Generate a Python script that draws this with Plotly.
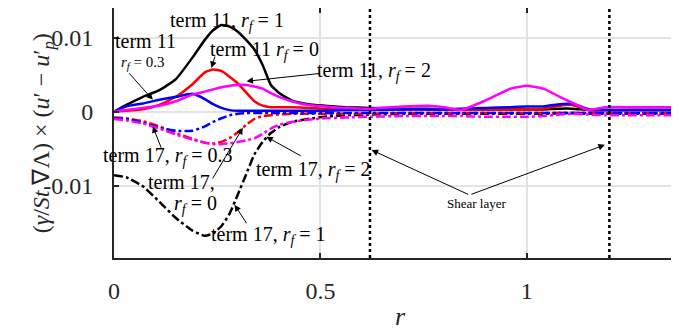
import plotly.graph_objects as go

# radial positions shared by all curves
R = [0, 0.03, 0.07, 0.11, 0.15, 0.19, 0.22, 0.24, 0.26, 0.28, 0.30, 0.32, 0.34,
     0.36, 0.38, 0.40, 0.43, 0.47, 0.51, 0.56, 0.62, 0.70, 0.76, 0.80, 0.84,
     0.90, 0.96, 1.00, 1.04, 1.08, 1.11, 1.15, 1.19, 1.25, 1.30, 1.39]

# term 11 (solid)
T11_RF1 = [0, 0.0009, 0.0020, 0.0029, 0.0044, 0.0073, 0.0097, 0.0110, 0.0117, 0.0115,
           0.0108, 0.0097, 0.0084, 0.0063, 0.0036, 0.0025, 0.0015, 0.0010, 0.0008,
           0.0006, 0.0005, 0.0004, 0.0004, 0.0003, 0.0003, 0.0003, 0.0003, 0.0003,
           0.0003, 0.0004, 0.0004, 0.0002, 0.0002, 0.0002, 0.0002, 0.0002]
T11_RF0 = [0, 0.0001, 0.0003, 0.0009, 0.0020, 0.0037, 0.0053, 0.0057, 0.0055, 0.0047,
           0.0038, 0.0026, 0.0014, 0.0008, 0.0006, 0.0006, 0.0006, 0.0005, 0.0004,
           0.0003, 0.0003, 0.0003, 0.0003, 0.0003, 0.0003, 0.0003, 0.0003, 0.0003,
           0.0004, 0.0008, 0.0009, 0.0002, 0.0002, 0.0002, 0.0002, 0.0002]
T11_RF03 = [0, 0.0007, 0.0011, 0.0016, 0.0020, 0.0024, 0.0017, 0.0010, 0.0005, 0.0002,
            0.0001, 0.0001, 0.0001, 0.0001, 0.0001, 0.0001, 0.0001, 0.0001, 0.0001,
            0.0002, 0.0002, 0.0003, 0.0003, 0.0003, 0.0004, 0.0005, 0.0006, 0.0007,
            0.0007, 0.0010, 0.0011, 0.0003, 0.0002, 0.0002, 0.0002, 0.0002]
T11_RF2 = [0, 0.0002, 0.0005, 0.0008, 0.0014, 0.0023, 0.0027, 0.0030, 0.0033, 0.0035,
           0.0036, 0.0036, 0.0034, 0.0031, 0.0025, 0.0020, 0.0014, 0.0009, 0.0007,
           0.0005, 0.0004, 0.0007, 0.0008, 0.0006, 0.0002, 0.0015, 0.0031, 0.0035,
           0.0031, 0.0020, 0.0012, 0.0002, 0.0006, 0.0006, 0.0006, 0.0006]

# term 17 (dash-dot)
T17_RF1 = [-0.0086, -0.0089, -0.0101, -0.0122, -0.0144, -0.0161, -0.0168, -0.0165,
           -0.0155, -0.0138, -0.0112, -0.0085, -0.0058, -0.0041, -0.0029, -0.0021,
           -0.0014, -0.0010, -0.0007, -0.0005, -0.0004, -0.0003, -0.0003, -0.0003,
           -0.0003, -0.0003, -0.0003, -0.0003, -0.0003, -0.0002, -0.0002, -0.0003,
           -0.0003, -0.0003, -0.0003, -0.0003]
T17_RF0 = [-0.0008, -0.0009, -0.0013, -0.0020, -0.0029, -0.0037, -0.0042, -0.0043,
           -0.0041, -0.0036, -0.0028, -0.0018, -0.0010, -0.0006, -0.0005, -0.0004,
           -0.0003, -0.0003, -0.0003, -0.0003, -0.0003, -0.0002, -0.0002, -0.0002,
           -0.0002, -0.0002, -0.0002, -0.0002, -0.0002, -0.0002, -0.0002, -0.0002,
           -0.0002, -0.0002, -0.0002, -0.0002]
T17_RF03 = [-0.0009, -0.0010, -0.0015, -0.0022, -0.0026, -0.0026, -0.0020, -0.0014,
            -0.0009, -0.0005, -0.0003, -0.0002, -0.0002, -0.0002, -0.0002, -0.0002,
            -0.0002, -0.0002, -0.0002, -0.0002, -0.0002, -0.0002, -0.0002, -0.0002,
            -0.0002, -0.0002, -0.0002, -0.0002, -0.0002, -0.0002, -0.0002, -0.0002,
            -0.0002, -0.0002, -0.0002, -0.0002]
T17_RF2 = [-0.0010, -0.0012, -0.0016, -0.0023, -0.0031, -0.0038, -0.0042, -0.0044,
           -0.0044, -0.0043, -0.0041, -0.0039, -0.0036, -0.0030, -0.0023, -0.0018,
           -0.0014, -0.0011, -0.0009, -0.0008, -0.0007, -0.0006, -0.0006, -0.0006,
           -0.0006, -0.0007, -0.0007, -0.0007, -0.0006, -0.0004, -0.0003, -0.0004,
           -0.0005, -0.0005, -0.0005, -0.0005]

SHEAR_LAYER = [0.62, 1.2]
X_TICKS = [0, 0.5, 1]
Y_TICKS = [-0.01, 0, 0.01]
Y_TICK_TEXT = ['-0.01', '0', '0.01']

FUENTE = 'Liberation Serif'
RF = '<i>r</i><sub><i>f</i></sub>'

fig = go.Figure()

for vals, color in [(T11_RF1, 'black'), (T11_RF0, 'red'), (T11_RF03, 'blue'), (T11_RF2, 'magenta')]:
    fig.add_trace(go.Scatter(x=R, y=vals, mode='lines', line=dict(color=color, width=2.5, shape='spline', smoothing=0.4)))
for vals, color in [(T17_RF1, 'black'), (T17_RF0, 'red'), (T17_RF03, 'blue'), (T17_RF2, 'magenta')]:
    fig.add_trace(go.Scatter(x=R, y=vals, mode='lines', line=dict(color=color, width=2.5, dash='dashdot', shape='spline', smoothing=0.4)))

for xs in SHEAR_LAYER:
    fig.add_vline(x=xs, line=dict(color='black', width=2.5, dash='dot'))

# textos
textos = [
    ('term 11, ' + RF + ' = 1', 0.273, 0.0122, 20),
    ('term 11', 0.077, 0.0096, 20),
    (RF + ' = 0.3', 0.069, 0.0066, 15),
    ('term 11 ' + RF + ' = 0', 0.365, 0.0083, 20),
    ('term 11, ' + RF + ' = 2', 0.631, 0.0054, 20),
    ('term 17, ' + RF + ' = 0.3', 0.13, -0.0061, 20),
    ('term 17,', 0.164, -0.0095, 20),
    (RF + ' = 0', 0.198, -0.0126, 20),
    ('term 17, ' + RF + ' = 2', 0.484, -0.0079, 20),
    ('term 17, ' + RF + ' = 1', 0.375, -0.0167, 20),
    ('Shear layer', 0.879, -0.0124, 13),
]
for txt, x, y, size in textos:
    fig.add_annotation(x=x, y=y, text=txt, showarrow=False, font=dict(family=FUENTE, size=size, color='black'))

# flechas: punta (x, y) y desplazamiento de la cola en pixeles
flechas = [
    (0.094, 0.0016, -25, -28),
    (0.236, 0.0059, 4, -13),
    (0.321, 0.0041, 75, -8),
    (0.094, -0.0020, 9, 23),
    (0.312, -0.0022, -31, 52),
    (0.369, -0.0034, 36, 20),
    (0.292, -0.0126, 13, 20),
    (0.624, -0.0052, 98, 45),
    (1.189, -0.0045, -135, 50),
]
for x, y, ax, ay in flechas:
    fig.add_annotation(x=x, y=y, ax=ax, ay=ay, text='', showarrow=True, arrowhead=2,
                       arrowsize=1.3, arrowwidth=1, arrowcolor='black')

fig.add_annotation(xref='paper', yref='paper', x=-0.153, y=0.5, textangle=-90, showarrow=False,
                   text='(<i>γ</i>/<i>St</i> ∇Λ) × (<i>u</i>′ − <i>u</i>′<sub><i>p</i></sub>)',
                   font=dict(family=FUENTE, size=24, color='#262626'))
fig.add_annotation(xref='paper', yref='paper', x=0.5005, y=-0.3, showarrow=False,
                   text='<i>r</i>', font=dict(family=FUENTE, size=26, color='#262626'))

fig.update_layout(
    width=679, height=335,
    margin=dict(l=106, r=0, t=0, b=85, autoexpand=False),
    showlegend=False,
    plot_bgcolor='white',
    paper_bgcolor='white',
    font=dict(family=FUENTE, size=24, color='#262626'),
)
fig.update_xaxes(range=[0, 1.388], tickvals=X_TICKS, ticktext=['0', '0.5', '1'], showgrid=True,
                 gridcolor='#e3e3e3', gridwidth=2, zeroline=False, showline=True, linecolor='#262626',
                 linewidth=2, mirror='ticks', ticks='inside', ticklen=5, tickwidth=1.5, tickcolor='#262626',
                 ticklabelstandoff=10, automargin=False)
fig.update_yaxes(range=[-0.0198, 0.01401], tickvals=Y_TICKS, ticktext=Y_TICK_TEXT, showgrid=True,
                 gridcolor='#e3e3e3', gridwidth=2, zeroline=False, showline=True, linecolor='#262626',
                 linewidth=2, ticks='inside', ticklen=5, tickwidth=1.5, tickcolor='#262626',
                 ticklabelstandoff=14, automargin=False)

fig.write_html("out.html")
